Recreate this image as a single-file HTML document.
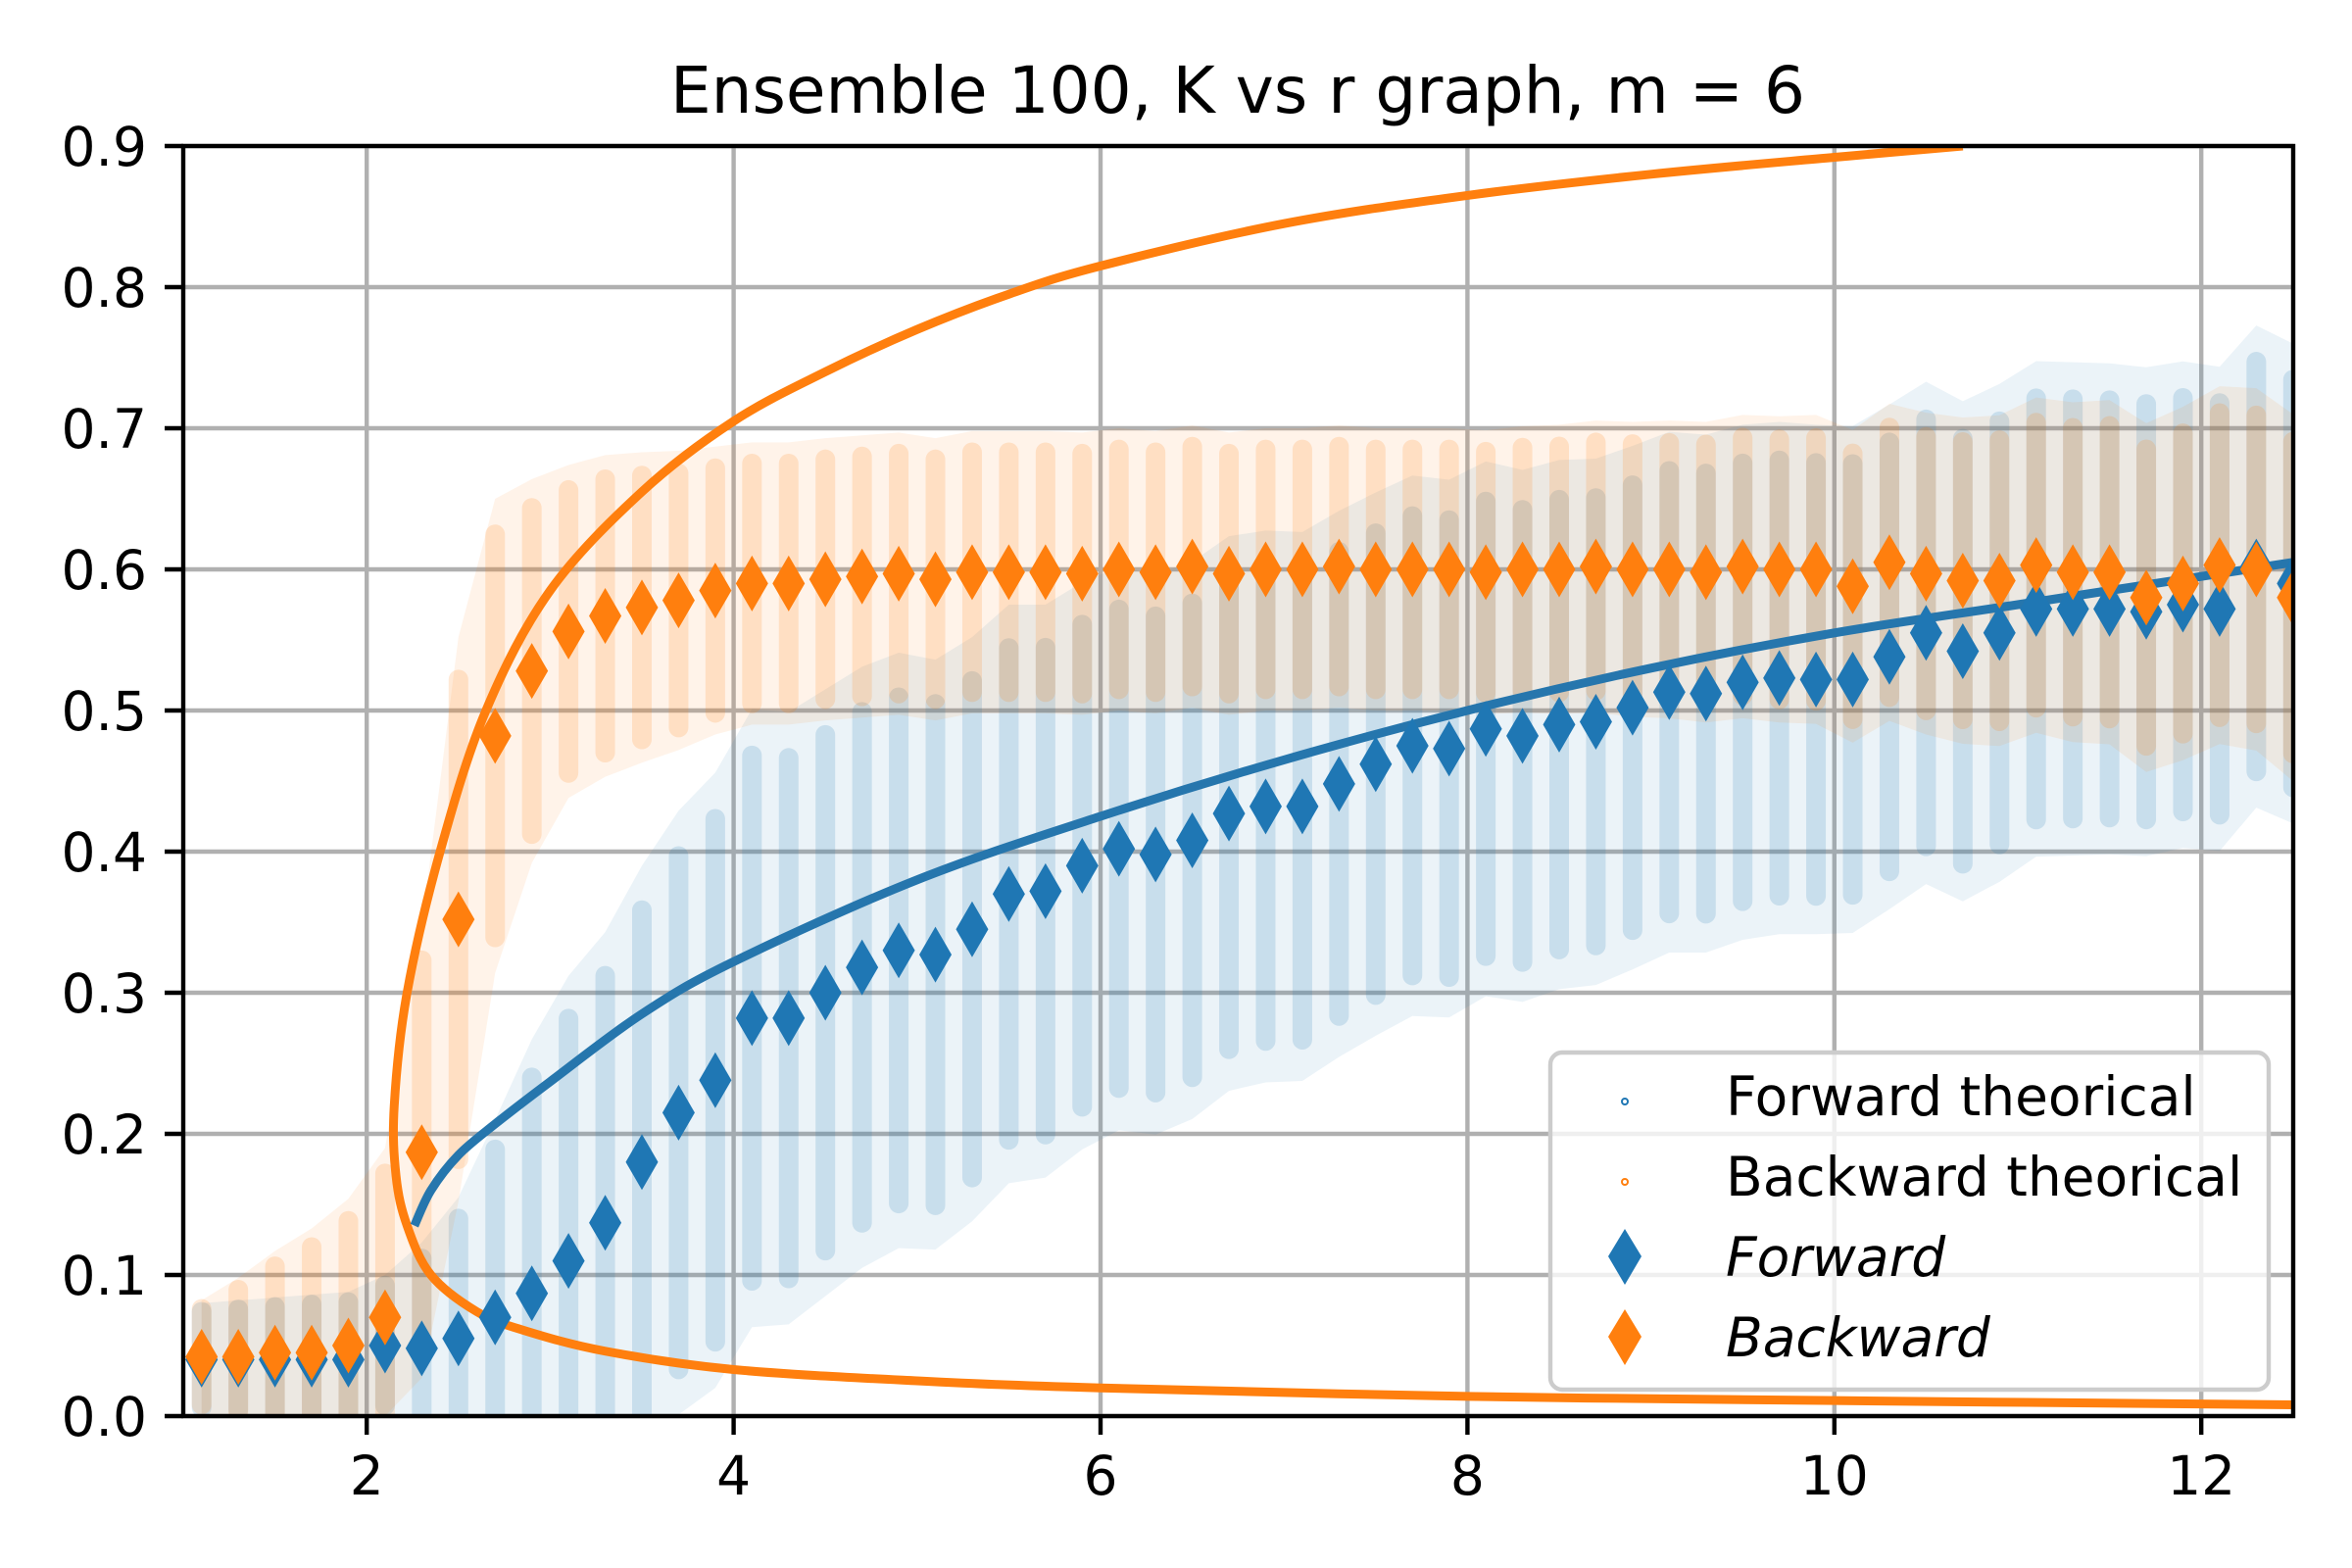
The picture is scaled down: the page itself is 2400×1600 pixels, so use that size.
<!DOCTYPE html>
<html><head><meta charset="utf-8">
<style>
html,body{margin:0;padding:0;background:#fff;}
svg{display:block;font-family:"DejaVu Sans","Liberation Sans",sans-serif;}
</style></head>
<body>
<svg id="chart" width="2400" height="1600" viewBox="0 0 2400 1600" xmlns="http://www.w3.org/2000/svg">
<rect width="2400" height="1600" fill="#fff"/>
<text x="1263" y="115" font-size="66" text-anchor="middle">Ensemble 100, K vs r graph, m = 6</text>
<defs><clipPath id="clip"><rect x="187" y="149" width="2153" height="1296"/></clipPath></defs>
<g id="grid"></g>
<g id="plot" clip-path="url(#clip)"></g>
<rect x="187" y="149" width="2153" height="1296" fill="none" stroke="#000" stroke-width="4.4"/>
<g id="axes"></g>
<g id="legend">
<rect x="1582" y="1074" width="733" height="344" rx="12" fill="#fff" fill-opacity="0.8" stroke="#ccc" stroke-width="4.4"/>
<circle cx="1658" cy="1124" r="3" fill="none" stroke="#1f77b4" stroke-width="2"/>
<text x="1761" y="1138" font-size="55">Forward theorical</text>
<circle cx="1658" cy="1206" r="3" fill="none" stroke="#ff7f0e" stroke-width="2"/>
<text x="1761" y="1220" font-size="55">Backward theorical</text>
<path d="M1658,1254 L1675,1282 L1658,1311 L1641,1282 Z" fill="#1f77b4"/>
<text x="1761" y="1302" font-size="55" font-style="italic">Forward</text>
<path d="M1658,1336 L1675,1364 L1658,1393 L1641,1364 Z" fill="#ff7f0e"/>
<text x="1761" y="1384" font-size="55" font-style="italic">Backward</text>
</g>
</svg>
<script>
const xTicks=[2,4,6,8,10,12];
const yTicks=[0.0,0.1,0.2,0.3,0.4,0.5,0.6,0.7,0.8,0.9];
const xLabels=["2","4","6","8","10","12"];
const yLabels=["0.0","0.1","0.2","0.3","0.4","0.5","0.6","0.7","0.8","0.9"];
// theoretical curves (K, r)
const bwdTheoX=[10.7,10,9,8,7,6,5.5,5,4.5,4,3.5,3.0,2.65,2.4,2.22,2.15,2.16,2.22,2.35,2.6,2.85,3.3,4,5,6,8,10,12.5];
const bwdTheoY=[0.9,0.892,0.88,0.865,0.845,0.815,0.795,0.77,0.74,0.705,0.655,0.585,0.50,0.40,0.30,0.22,0.17,0.135,0.10,0.074,0.061,0.046,0.033,0.025,0.02,0.014,0.011,0.008];
const fwdTheoX=[2.26,2.35,2.5,2.7,3.0,3.5,4,5,6,7,8,9,10,11,12,12.5];
const fwdTheoY=[0.135,0.16,0.185,0.207,0.237,0.285,0.322,0.38,0.425,0.465,0.5,0.53,0.555,0.575,0.595,0.605];
// ensemble mean diamonds
const rVals=[1.1,1.3,1.5,1.7,1.9,2.1,2.3,2.5,2.7,2.9,3.1,3.3,3.5,3.7,3.9,4.1,4.3,4.5,4.7,4.9,5.1,5.3,5.5,5.7,5.9,6.1,6.3,6.5,6.7,6.9,7.1,7.3,7.5,7.7,7.9,8.1,8.3,8.5,8.7,8.9,9.1,9.3,9.5,9.7,9.9,10.1,10.3,10.5,10.7,10.9,11.1,11.3,11.5,11.7,11.9,12.1,12.3,12.5];
const fwdMean=[0.04,0.04,0.04,0.04,0.04,0.05,0.048,0.055,0.07,0.087,0.11,0.137,0.18,0.215,0.238,0.282,0.282,0.3,0.318,0.33,0.327,0.345,0.37,0.372,0.39,0.402,0.398,0.408,0.427,0.432,0.432,0.448,0.462,0.475,0.473,0.487,0.482,0.49,0.492,0.502,0.513,0.512,0.52,0.523,0.522,0.522,0.538,0.555,0.542,0.555,0.572,0.572,0.572,0.57,0.575,0.572,0.602,0.59];
const bwdMean=[0.042,0.042,0.045,0.045,0.05,0.07,0.187,0.352,0.482,0.528,0.556,0.567,0.573,0.578,0.585,0.59,0.59,0.593,0.595,0.597,0.593,0.598,0.598,0.598,0.597,0.6,0.598,0.602,0.597,0.6,0.6,0.602,0.6,0.6,0.6,0.598,0.6,0.6,0.602,0.6,0.6,0.598,0.602,0.6,0.6,0.588,0.605,0.597,0.592,0.592,0.603,0.598,0.598,0.58,0.59,0.603,0.6,0.58];
// ensemble spread (half-width of cloud) at sample K values
const spreadX=[1.1,2.1,2.5,3.0,4.0,6.0,8.0,10.0,12.5];
const fwdSpread=[0.04,0.05,0.1,0.2,0.22,0.2,0.19,0.18,0.17];
const bwdSpread=[0.04,0.12,0.2,0.12,0.1,0.1,0.1,0.11,0.13];

const X=v=>187+(v-1)*187.2;
const Y=v=>1445-v*1440;
const NS="http://www.w3.org/2000/svg";
function mk(tag,parent,attrs){const e=document.createElementNS(NS,tag);for(const k in attrs)e.setAttribute(k,attrs[k]);parent.appendChild(e);return e;}
function interp(xs,ys,x){if(x<=xs[0])return ys[0];for(let i=1;i<xs.length;i++){if(x<=xs[i]){const t=(x-xs[i-1])/(xs[i]-xs[i-1]);return ys[i-1]+t*(ys[i]-ys[i-1]);}}return ys[ys.length-1];}
const grid=document.getElementById('grid'),axes=document.getElementById('axes'),plot=document.getElementById('plot');
xTicks.forEach((t,i)=>{
  const g=mk('line',grid,{x1:X(t),x2:X(t),y1:149,y2:1445,stroke:'#b0b0b0','stroke-width':4.4});
  
  
  const tk=mk('line',axes,{x1:X(t),x2:X(t),y1:1445,y2:1464,stroke:'#000','stroke-width':4.4});
  
  
  const tx=mk('text',axes,{x:X(t),y:1525,'font-size':55,'text-anchor':'middle'});tx.textContent=xLabels[i];
  
  
});
yTicks.forEach((t,i)=>{
  const g=mk('line',grid,{x1:187,x2:2340,y1:Y(t),y2:Y(t),stroke:'#b0b0b0','stroke-width':4.4});
  
  
  const tk=mk('line',axes,{x1:168,x2:187,y1:Y(t),y2:Y(t),stroke:'#000','stroke-width':4.4});
  
  
  const tx=mk('text',axes,{x:150,y:Y(t)+20,'font-size':55,'text-anchor':'end'});tx.textContent=yLabels[i];
  
  
});
function cloud(mean,spread,color,name){
  let up='',lo='';
  rVals.forEach((r,i)=>{const s=interp(spreadX,spread,r);up+=(i?'L':'M')+X(r)+','+Y(mean[i]+s);});
  for(let i=rVals.length-1;i>=0;i--){const s=interp(spreadX,spread,rVals[i]);lo+='L'+X(rVals[i])+','+Y(Math.max(0,mean[i]-s));}
  const p=mk('path',plot,{d:up+lo+'Z',fill:color,'fill-opacity':0.09});
  
  
  rVals.forEach((r,i)=>{const s=interp(spreadX,spread,r);
    const l=mk('line',plot,{x1:X(r),x2:X(r),y1:Y(mean[i]+s*0.85),y2:Y(Math.max(0,mean[i]-s*0.85)),stroke:color,'stroke-opacity':0.17,'stroke-width':20,'stroke-linecap':'round'});
    
    
  });
}
cloud(fwdMean,fwdSpread,'#1f77b4','forward');
cloud(bwdMean,bwdSpread,'#ff7f0e','backward');
function curve(xs,ys,color,name){
  const P=xs.map((x,i)=>[X(x),Y(ys[i])]);
  let d='M'+P[0][0]+','+P[0][1];
  for(let i=0;i<P.length-1;i++){
    const p0=P[Math.max(0,i-1)],p1=P[i],p2=P[i+1],p3=P[Math.min(P.length-1,i+2)];
    const c1=[p1[0]+(p2[0]-p0[0])/6,p1[1]+(p2[1]-p0[1])/6];
    const c2=[p2[0]-(p3[0]-p1[0])/6,p2[1]-(p3[1]-p1[1])/6];
    d+=`C${c1[0]},${c1[1]} ${c2[0]},${c2[1]} ${p2[0]},${p2[1]}`;
  }
  const p=mk('path',plot,{d:d,fill:'none',stroke:color,'stroke-width':9,'stroke-linejoin':'round'});
  
  
}
curve(bwdTheoX,bwdTheoY,'#ff7f0e','backward-theorical-curve');
curve(fwdTheoX,fwdTheoY,'#2676ad','forward-theorical-curve');
function diamonds(mean,color,name){
  rVals.forEach((r,i)=>{const cx=X(r),cy=Y(mean[i]);
    const p=mk('path',plot,{d:`M${cx},${cy-28.5}L${cx+16.5},${cy}L${cx},${cy+28.5}L${cx-16.5},${cy}Z`,fill:color});
    
    
  });
}
diamonds(fwdMean,'#1f77b4','forward');
diamonds(bwdMean,'#ff7f0e','backward');
</script>
</body></html>
